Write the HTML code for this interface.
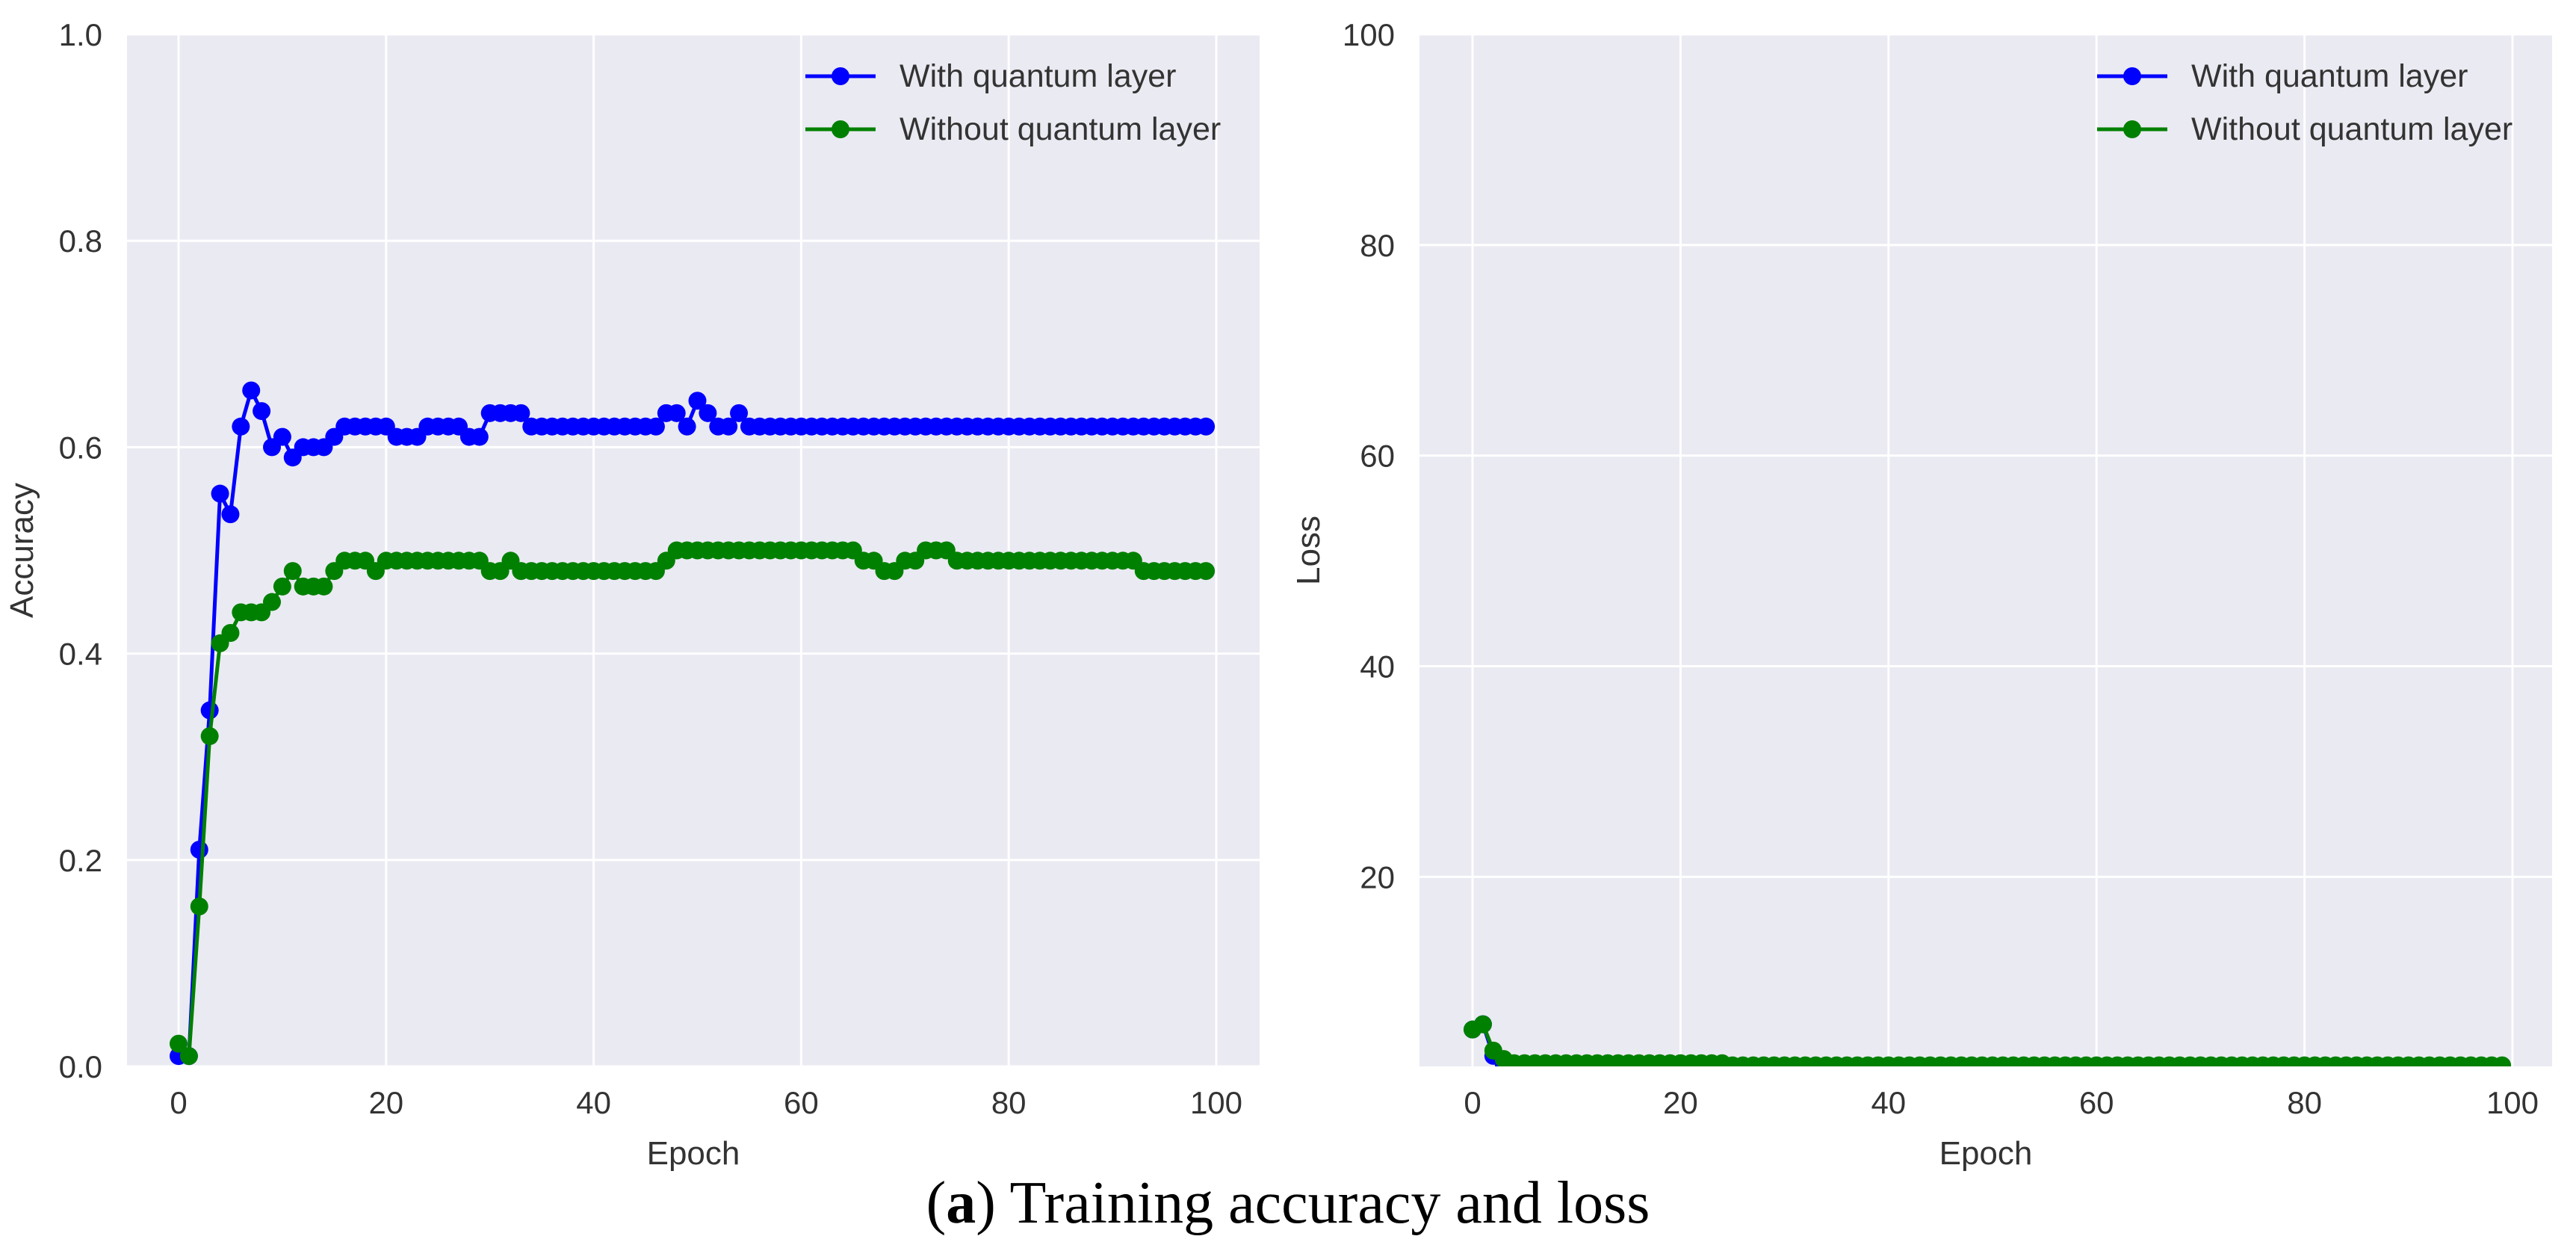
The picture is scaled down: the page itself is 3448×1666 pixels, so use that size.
<!DOCTYPE html>
<html><head><meta charset="utf-8"><style>
html,body{margin:0;padding:0;background:#fff;}
svg{display:block;font-family:"Liberation Sans",sans-serif;}
</style></head><body>
<svg id="fig" width="3448" height="1666" viewBox="0 0 3448 1666">
<text x="1724" y="1636" text-anchor="middle" font-family="Liberation Serif, serif" font-size="80" fill="#000">(<tspan font-weight="bold">a</tspan>) Training accuracy and loss</text>
</svg>
<script>
const epochs = Array.from({length:100},(_,i)=>i);
const accWith = [0.01,0.01,0.21,0.345,0.555,0.535,0.62,0.655,0.635,0.60,0.61,0.59,0.60,0.60,0.60,0.61,0.62,0.62,0.62,0.62,0.62,0.61,0.61,0.61,0.62,0.62,0.62,0.62,0.61,0.61,0.633,0.633,0.633,0.633,0.62,0.62,0.62,0.62,0.62,0.62,0.62,0.62,0.62,0.62,0.62,0.62,0.62,0.633,0.633,0.62,0.645,0.633,0.62,0.62,0.633,0.62,0.62,0.62,0.62,0.62,0.62,0.62,0.62,0.62,0.62,0.62,0.62,0.62,0.62,0.62,0.62,0.62,0.62,0.62,0.62,0.62,0.62,0.62,0.62,0.62,0.62,0.62,0.62,0.62,0.62,0.62,0.62,0.62,0.62,0.62,0.62,0.62,0.62,0.62,0.62,0.62,0.62,0.62,0.62,0.62];
const accWithout = [0.022,0.01,0.155,0.32,0.41,0.42,0.44,0.44,0.44,0.45,0.465,0.48,0.465,0.465,0.465,0.48,0.49,0.49,0.49,0.48,0.49,0.49,0.49,0.49,0.49,0.49,0.49,0.49,0.49,0.49,0.48,0.48,0.49,0.48,0.48,0.48,0.48,0.48,0.48,0.48,0.48,0.48,0.48,0.48,0.48,0.48,0.48,0.49,0.50,0.50,0.50,0.50,0.50,0.50,0.50,0.50,0.50,0.50,0.50,0.50,0.50,0.50,0.50,0.50,0.50,0.50,0.49,0.49,0.48,0.48,0.49,0.49,0.50,0.50,0.50,0.49,0.49,0.49,0.49,0.49,0.49,0.49,0.49,0.49,0.49,0.49,0.49,0.49,0.49,0.49,0.49,0.49,0.49,0.48,0.48,0.48,0.48,0.48,0.48,0.48];
const lossWith = [5.5,6.0,3.0,2.2].concat(Array(96).fill(1.8));
const lossWithout = [5.5,6.0,3.5,2.7].concat(Array(21).fill(2.3)).concat(Array(75).fill(2.1));
const xTicks = [0,20,40,60,80,100];
const accTicks = ["0.0","0.2","0.4","0.6","0.8","1.0"];
const lossTicks = ["20","40","60","80","100"];
const seriesNames = ["With quantum layer","Without quantum layer"];

const NS="http://www.w3.org/2000/svg";
const svg=document.getElementById('fig');
function mk(tag,attrs,parent){const e=document.createElementNS(NS,tag);for(const k in attrs)e.setAttribute(k,attrs[k]);(parent||svg).appendChild(e);return e;}

function panel(o){
  const g=mk('g',{});
  
  
  const X=v=>o.x0+(v-0)/(100)*(o.x100-o.x0);
  const Y=v=>o.bottom-(v-o.ymin)/(o.ymax-o.ymin)*(o.bottom-o.top);
  const bg=mk('rect',{x:o.left,y:o.top,width:o.right-o.left,height:o.bottom-o.top,fill:'#eaeaf2'},g);
  
  
  const cid='clip'+o.name;
  const cp=mk('clipPath',{id:cid},g);mk('rect',{x:o.left,y:o.top,width:o.right-o.left,height:o.bottom-o.top},cp);
  xTicks.forEach(t=>{
    const l=mk('line',{x1:X(t),x2:X(t),y1:o.top,y2:o.bottom,stroke:'#fff','stroke-width':3},g);
    
    
    const tx=mk('text',{x:X(t),y:1490,'text-anchor':'middle','font-size':42,fill:'#333'},g);tx.textContent=t;
    
    
  });
  o.yTicks.forEach(s=>{
    const v=parseFloat(s);
    const l=mk('line',{x1:o.left,x2:o.right,y1:Y(v),y2:Y(v),stroke:'#fff','stroke-width':3},g);
    
    
    const tx=mk('text',{x:o.tickRight,y:Y(v)+15,'text-anchor':'end','font-size':42,fill:'#333'},g);tx.textContent=s;
    
    
  });
  const xl=mk('text',{x:(o.left+o.right)/2,y:1558,'text-anchor':'middle','font-size':44,fill:'#333'},g);xl.textContent='Epoch';
  
  
  const yl=mk('text',{x:0,y:0,'text-anchor':'middle','font-size':44,fill:'#333',transform:`translate(${o.ylx},${(o.top+o.bottom)/2}) rotate(-90)`},g);yl.textContent=o.ylabel;
  
  
  const cols=['#0000ff','#008000'];
  o.series.forEach((data,si)=>{
    const sg=mk('g',{'clip-path':`url(#${cid})`},g);
    
    
    const pts=data.map((v,i)=>X(epochs[i])+','+Y(v)).join(' ');
    mk('polyline',{points:pts,fill:'none',stroke:cols[si],'stroke-width':5,'stroke-linejoin':'round'},sg);
    data.forEach((v,i)=>{
      const c=mk('circle',{cx:X(epochs[i]),cy:Y(v),r:12,fill:cols[si]},sg);
      
      
    });
  });
  [0,1].forEach(si=>{
    const lg=mk('g',{},g);
    
    
    const y=[102,173][si];
    mk('line',{x1:o.legX,x2:o.legX+94,y1:y,y2:y,stroke:cols[si],'stroke-width':5},lg);
    mk('circle',{cx:o.legX+47,cy:y,r:12,fill:cols[si]},lg);
    const t=mk('text',{x:o.legX+126,y:y+14,'font-size':43,fill:'#333'},lg);t.textContent=seriesNames[si];
  });
}
panel({name:'accuracy-panel',left:170,right:1686,top:46,bottom:1427,x0:239,x100:1628,ymin:0,ymax:1,yTicks:accTicks,tickRight:137,ylx:44,ylabel:'Accuracy',series:[accWith,accWithout],legX:1078});
panel({name:'loss-panel',left:1900,right:3416,top:46,bottom:1427,x0:1971,x100:3363,ymin:2,ymax:100,yTicks:lossTicks,tickRight:1867,ylx:1766,ylabel:'Loss',series:[lossWith,lossWithout],legX:2807});
</script>
</body></html>
